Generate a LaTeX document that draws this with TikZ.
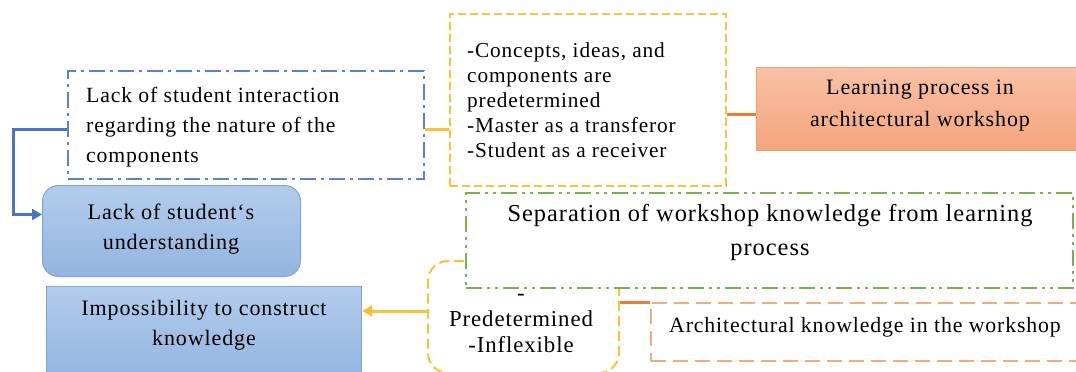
\documentclass[tikz,border=0pt]{standalone}
\usepackage{fontspec}
\setmainfont{Liberation Serif}[LetterSpace=4]
\usetikzlibrary{arrows.meta,calc}

\definecolor{blueline}{HTML}{5A82CF}
\definecolor{bluearrow}{HTML}{4A74C8}
\definecolor{yellowline}{HTML}{F8C13A}
\definecolor{greenline}{HTML}{78B150}
\definecolor{orangedash}{HTML}{F2AC7E}
\definecolor{orangeline}{HTML}{ED7D31}
\definecolor{bluetop}{HTML}{B2CCEC}
\definecolor{bluebottom}{HTML}{94B5E1}
\definecolor{blueborder}{HTML}{80A4D6}
\definecolor{orangetop}{HTML}{F8C1A5}
\definecolor{orangebottom}{HTML}{F4A47C}
\definecolor{orangeborder}{HTML}{F0A072}

\newcommand{\setfs}[2]{\fontsize{#1}{#2}\selectfont}

\tikzset{
  frame/.style={anchor=north west, inner sep=0pt},
  bluedashbox/.style={frame, draw=blueline, line width=2pt,
    dash pattern=on 16pt off 5pt on 3pt off 5pt},
  yellowdashbox/.style={frame, draw=yellowline, line width=2pt,
    dash pattern=on 8pt off 4pt},
  yellowroundbox/.style={frame, draw=yellowline, line width=2pt,
    rounded corners=20pt, dash pattern=on 10pt off 5pt},
  greendashbox/.style={frame, draw=greenline, fill=white, line width=2pt,
    dash pattern=on 16pt off 5pt on 3pt off 5pt on 3pt off 5pt},
  orangedashbox/.style={frame, draw=orangedash, line width=2pt,
    dash pattern=on 15pt off 7pt},
  bluefillbox/.style={frame, draw=blueborder, line width=1pt,
    top color=bluetop, bottom color=bluebottom},
  orangefillbox/.style={frame, draw=orangeborder, line width=1pt,
    top color=orangetop, bottom color=orangebottom},
  txt/.style={inner sep=0pt, text=black},
  link/.style={line width=3pt},
  tip/.style={-{Triangle[length=10pt,width=11pt]}},
}

\begin{document}
\begin{tikzpicture}[x=1pt,y=-1pt]
\useasboundingbox[fill=white] (0,0) rectangle (1076,372);

% boxes (the rigid box comes before the separation box, which covers it)
\node[bluedashbox, minimum width=356pt, minimum height=108pt] (interact) at (67,70) {};
\node[yellowdashbox, minimum width=276pt, minimum height=172pt] (teach) at (449,13) {};
\node[orangefillbox, minimum width=330pt, minimum height=83pt] (learn) at (756,67) {};
\node[bluefillbox, rounded corners=16pt, minimum width=258pt, minimum height=91pt] (understand) at (42,185) {};
\node[yellowroundbox, minimum width=191pt, minimum height=112pt] (rigid) at (427,260) {};
\node[greendashbox, minimum width=607pt, minimum height=95pt] (separate) at (465,192) {};
\node[orangedashbox, minimum width=430pt, minimum height=58pt] (archknow) at (650,302) {};
\node[bluefillbox, minimum width=315pt, minimum height=92pt] (impossible) at (46,286) {};

% texts
\node[txt, anchor=west, align=left, font=\setfs{21.7}{30}] (interactT) at (86,127)
  {Lack of student interaction\\regarding the nature of the\\components};
\node[txt, anchor=west, align=left, font=\setfs{21.3}{25}] (teachT) at (467,100)
  {-Concepts, ideas, and\\components are\\predetermined\\-Master as a transferor\\-Student as a receiver};
\node[txt, align=center, font=\setfs{22}{32}] (learnT) at (920,106)
  {Learning process in\\architectural workshop};
\node[txt, align=center, font=\setfs{22.2}{30}] (understandT) at (171,229)
  {Lack of student‘s\\understanding};
\node[txt, align=center, font=\setfs{24.4}{34}] (separateT) at (770,233)
  {Separation of workshop knowledge from learning\\process};
\node[txt, align=center, font=\setfs{22.8}{26}] (rigidT) at (521,323)
  {-\\Predetermined\\-Inflexible};
\node[txt, align=center, font=\setfs{21.8}{30}] (archknowT) at (865,327)
  {Architectural knowledge in the workshop};
\node[txt, align=center, font=\setfs{22}{30}] (impossibleT) at (204,325)
  {Impossibility to construct\\knowledge};

% connectors
\draw[link, yellowline] (interact.east) ++(0,4) coordinate (c1) -- (c1 -| teach.west);
\draw[link, orangeline] (learn.west) ++(0,5.5) coordinate (c2) -- (c2 -| teach.east);
\draw[link, bluearrow, tip] (interact.west) ++(0,4) -- ++(-54,0)
  |- ([yshift=16.5pt]understand.west);
\draw[link, yellowline, tip] ([yshift=6pt]rigid.west) coordinate (c3) -- (c3 -| impossible.east);
\draw[link, orangeline] (archknow.north west) -- (archknow.north west -| rigid.east);
\end{tikzpicture}
\end{document}
